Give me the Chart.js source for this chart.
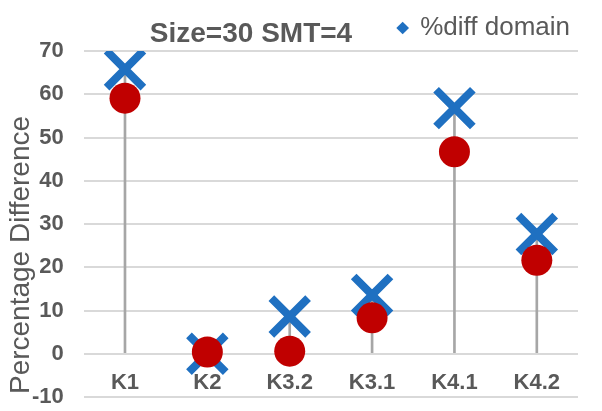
<!DOCTYPE html>
<html>
<head>
<meta charset="utf-8">
<script src="https://cdn.jsdelivr.net/npm/chart.js@4/dist/chart.umd.min.js"></script>
<style>
  body { margin: 0; background: #fff; }
  #chart { display: block; }
</style>
</head>
<body>
<canvas id="chart" width="602" height="411"></canvas>
<script>
// Chart data
const categories = ["K1", "K2", "K3.2", "K3.1", "K4.1", "K4.2"];
const diffDomain = [65.8, 0, 8.6, 13.6, 56.8, 27.7];   // blue X markers (legend)
const diffOther = [59.1, 0.4, 0.6, 8.3, 46.7, 21.6];   // red circles
const yTicks = [-10, 0, 10, 20, 30, 40, 50, 60, 70];

const chartTitle = "Size=30 SMT=4";
const yAxisTitle = "Percentage Difference";

const grey = "#595959";
const blue = "#1f70c1";
const red = "#c00000";

// drop lines go from the highest marker down to zero
const dropLines = categories.map((c, i) => [0, Math.max(diffDomain[i], diffOther[i])]);

// draws the chart title and the y axis title where Excel put them
const textPlugin = {
    id: 'textPlugin',
    afterDraw(chart) {
        const ctx = chart.ctx;
        ctx.save();
        ctx.fillStyle = grey;
        ctx.font = "bold 28px 'Liberation Sans', Arial, sans-serif";
        ctx.textAlign = 'center';
        ctx.textBaseline = 'alphabetic';
        ctx.fillText(chartTitle, 251, 42);

        ctx.font = "28px 'Liberation Sans', Arial, sans-serif";
        ctx.translate(29, 255);
        ctx.rotate(-Math.PI / 2);
        ctx.fillText(yAxisTitle, 0, 0);
        ctx.restore();
    }
};

const ctx = document.getElementById('chart').getContext('2d');
new Chart(ctx, {
    data: {
        labels: categories,
        datasets: [
            {
                type: 'line',
                label: '%diff',
                data: diffOther,
                showLine: false,
                pointStyle: 'circle',
                pointRadius: 15.5,
                pointHoverRadius: 15.5,
                pointBackgroundColor: red,
                pointBorderWidth: 0,
                backgroundColor: red,
                borderColor: red,
                order: 0
            },
            {
                type: 'line',
                label: '%diff domain',
                data: diffDomain,
                showLine: false,
                pointStyle: 'crossRot',
                pointRadius: 26,
                pointHoverRadius: 26,
                pointBorderColor: blue,
                pointBorderWidth: 8,
                backgroundColor: blue,
                borderColor: blue,
                order: 1
            },
            {
                type: 'bar',
                label: 'drop',
                data: dropLines,
                backgroundColor: '#a6a6a6',
                barThickness: 2,
                order: 2
            }
        ]
    },
    options: {
        responsive: false,
        animation: false,
        devicePixelRatio: 1,
        layout: {
            autoPadding: false,
            padding: { top: 7, left: 32, right: 24, bottom: 14 }
        },
        plugins: {
            title: { display: false },
            tooltip: { enabled: false },
            legend: {
                display: true,
                position: 'top',
                align: 'end',
                labels: {
                    color: grey,
                    font: { family: "'Liberation Sans', Arial, sans-serif", size: 26 },
                    usePointStyle: true,
                    boxWidth: 9,
                    boxHeight: 9,
                    padding: 8,
                    generateLabels(chart) {
                        const items = Chart.defaults.plugins.legend.labels.generateLabels(chart);
                        items.forEach(it => {
                            it.pointStyle = 'rectRot';
                            it.lineWidth = 0;
                            it.fillStyle = blue;
                            it.strokeStyle = blue;
                        });
                        return items;
                    },
                    filter: item => item.text === '%diff domain'
                }
            }
        },
        scales: {
            x: {
                axis: 'x',
                type: 'category',
                position: { y: 0 },
                offset: true,
                grid: { display: false, drawTicks: false },
                border: { display: false },
                ticks: {
                    color: grey,
                    padding: 16,
                    font: { family: "'Liberation Sans', Arial, sans-serif", size: 22, weight: 'bold' }
                },
                // the axis sits inside the plot, so it should not eat layout space
                afterFit(scale) {
                    scale.paddingLeft = 0;
                    scale.paddingRight = 0;
                    scale.paddingTop = 0;
                    scale.paddingBottom = 0;
                }
            },
            y: {
                min: -10,
                max: 70,
                afterBuildTicks(scale) {
                    scale.ticks = yTicks.map(v => ({ value: v }));
                },
                // gap between labels and plot comes from an invisible tick mark
                grid: { color: '#d9d9d9', lineWidth: 2, drawTicks: true, tickLength: 20, tickColor: 'rgba(0,0,0,0)' },
                border: { display: false },
                ticks: {
                    color: grey,
                    padding: 0,
                    font: { family: "'Liberation Sans', Arial, sans-serif", size: 22, weight: 'bold' }
                }
            }
        }
    },
    plugins: [textPlugin]
});
</script>
</body>
</html>
